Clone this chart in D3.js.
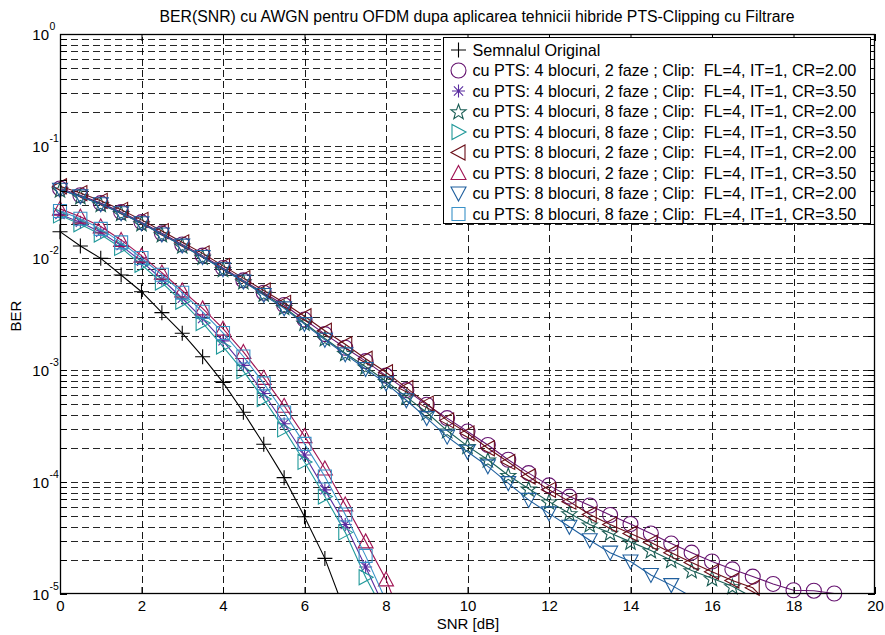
<!DOCTYPE html>
<html><head><meta charset="utf-8">
<script src="https://cdn.jsdelivr.net/npm/d3@7"></script>
<style>
body{margin:0;background:#fff;}
svg{display:block;font-family:"Liberation Sans",Arial,sans-serif;}
</style></head>
<body><svg id="c" width="885" height="635"></svg>
<script>
// ---------------- data ----------------
const snr = [0,0.5,1,1.5,2,2.5,3,3.5,4,4.5,5,5.5,6,6.5,7,7.5,8,8.5,9,9.5,10,10.5,11,11.5,12,12.5,13,13.5,14,14.5,15,15.5,16,16.5,17,17.5,18,18.5,19];
const xTicks = [0,2,4,6,8,10,12,14,16,18,20];
const yDecades = [0,-1,-2,-3,-4,-5];
const seriesNames = [
  "Semnalul Original",
  "cu PTS: 4 blocuri, 2 faze ; Clip:  FL=4, IT=1, CR=2.00",
  "cu PTS: 4 blocuri, 2 faze ; Clip:  FL=4, IT=1, CR=3.50",
  "cu PTS: 4 blocuri, 8 faze ; Clip:  FL=4, IT=1, CR=2.00",
  "cu PTS: 4 blocuri, 8 faze ; Clip:  FL=4, IT=1, CR=3.50",
  "cu PTS: 8 blocuri, 2 faze ; Clip:  FL=4, IT=1, CR=2.00",
  "cu PTS: 8 blocuri, 2 faze ; Clip:  FL=4, IT=1, CR=3.50",
  "cu PTS: 8 blocuri, 8 faze ; Clip:  FL=4, IT=1, CR=2.00",
  "cu PTS: 8 blocuri, 8 faze ; Clip:  FL=4, IT=1, CR=3.50"
];
const berOriginal = [0.01718,0.0128,0.00993,0.00705,0.0050,0.00325,0.00213,0.001315,7.76e-4,4.19e-4,2.17e-4,1.094e-4,4.9e-5,2.08e-5,6.85e-6];
const ber4b2fCR2 = [0.0417,0.0363,0.0309,0.0257,0.0209,0.0166,0.0132,0.0105,0.00813,0.00631,0.0049,0.0038,0.00282,0.00209,0.00158,0.0012,8.91e-4,6.61e-4,4.9e-4,3.72e-4,2.82e-4,2.14e-4,1.58e-4,1.2e-4,9.33e-5,7.41e-5,6.17e-5,5.07e-5,4.22e-5,3.47e-5,2.82e-5,2.34e-5,1.95e-5,1.66e-5,1.43e-5,1.23e-5,1.08e-5,1.07e-5,1.01e-5];
const ber4b2fCR35 = [0.0245,0.0209,0.0170,0.0129,0.00933,0.00646,0.00437,0.00288,0.00182,0.0011,6.17e-4,3.31e-4,1.74e-4,8.51e-5,4.17e-5,1.74e-5,7.08e-6];
const ber4b8fCR2 = [0.0407,0.0355,0.0302,0.0251,0.0204,0.0162,0.0129,0.0102,0.00794,0.00617,0.00479,0.00363,0.00263,0.00191,0.00141,0.00107,7.94e-4,5.75e-4,4.17e-4,2.88e-4,2.09e-4,1.58e-4,1.15e-4,8.71e-5,6.68e-5,5.25e-5,4.17e-5,3.51e-5,2.92e-5,2.45e-5,2.0e-5,1.62e-5,1.38e-5,1.17e-5,9.33e-6];
const ber4b8fCR35 = [0.0240,0.0200,0.0162,0.0123,0.00871,0.00603,0.00407,0.00263,0.00162,9.77e-4,5.5e-4,2.95e-4,1.51e-4,7.41e-5,3.55e-5,1.41e-5,6.46e-6];
const ber8b2fCR2 = [0.0437,0.038,0.0324,0.0269,0.0219,0.0174,0.0138,0.011,0.00851,0.00661,0.00513,0.00398,0.00302,0.00224,0.0017,0.00126,9.55e-4,6.92e-4,5.01e-4,3.55e-4,2.72e-4,2.0e-4,1.51e-4,1.12e-4,8.51e-5,6.68e-5,5.13e-5,4.17e-5,3.47e-5,2.88e-5,2.34e-5,1.91e-5,1.58e-5,1.32e-5,1.135e-5,7.41e-6];
const ber8b2fCR35 = [0.0275,0.0234,0.0191,0.0145,0.0105,0.00741,0.00513,0.00355,0.00234,0.00145,8.51e-4,4.79e-4,2.57e-4,1.32e-4,6.31e-5,2.95e-5,1.35e-5,4.68e-6];
const ber8b8fCR2 = [0.0407,0.0355,0.0302,0.0251,0.0204,0.0162,0.0129,0.0102,0.00794,0.00617,0.00468,0.00355,0.00257,0.00186,0.00138,0.00102,7.59e-4,5.37e-4,3.72e-4,2.54e-4,1.86e-4,1.38e-4,9.77e-5,6.92e-5,5.25e-5,3.98e-5,3.02e-5,2.34e-5,1.95e-5,1.48e-5,1.2e-5,9.44e-6];
const ber8b8fCR35 = [0.0263,0.0224,0.0182,0.0138,0.0100,0.00708,0.0049,0.00331,0.00214,0.00132,7.59e-4,4.17e-4,2.19e-4,1.12e-4,5.13e-5,2.19e-5,8.71e-6];

// ---------------- styling ----------------
const seriesData = [berOriginal, ber4b2fCR2, ber4b2fCR35, ber4b8fCR2, ber4b8fCR35, ber8b2fCR2, ber8b2fCR35, ber8b8fCR2, ber8b8fCR35];
const colors = ["#000000","#661470","#5a2ca0","#1b5e55","#21999a","#6a0e18","#a01453","#1f5f9e","#3a92c8"];
const markers = ["plus","circle","asterisk","pentagram","triR","triL","triU","triD","square"];

function markerPath(t){
  const p = d3.path();
  switch(t){
    case "plus": p.moveTo(-7.5,0);p.lineTo(7.5,0);p.moveTo(0,-7.5);p.lineTo(0,7.5);break;
    case "circle": p.moveTo(7.5,0);p.arc(0,0,7.5,0,2*Math.PI);break;
    case "asterisk": {const a=6.5,b=4.6;p.moveTo(-a,0);p.lineTo(a,0);p.moveTo(0,-a);p.lineTo(0,a);p.moveTo(-b,-b);p.lineTo(b,b);p.moveTo(-b,b);p.lineTo(b,-b);break;}
    case "pentagram": {const R=8,r=3.3;for(let i=0;i<10;i++){const ang=-Math.PI/2+i*Math.PI/5;const rr=i%2?r:R;const x=rr*Math.cos(ang),y=rr*Math.sin(ang)+0.8;if(i===0)p.moveTo(x,y);else p.lineTo(x,y);}p.closePath();break;}
    case "triU": p.moveTo(0,-7.5);p.lineTo(7.5,6.5);p.lineTo(-7.5,6.5);p.closePath();break;
    case "triD": p.moveTo(0,7.5);p.lineTo(7.5,-6.5);p.lineTo(-7.5,-6.5);p.closePath();break;
    case "triR": p.moveTo(7.5,0);p.lineTo(-6.5,-7.5);p.lineTo(-6.5,7.5);p.closePath();break;
    case "triL": p.moveTo(-7.5,0);p.lineTo(6.5,-7.5);p.lineTo(6.5,7.5);p.closePath();break;
    case "square": p.rect(-6.5,-6.5,13,13);break;
  }
  return p.toString();
}

// ---------------- chart ----------------
const svg = d3.select("#c");
const L=60,R=875,T=34,B=594;
const x = d3.scaleLinear().domain([0,20]).range([L,R]);
const y = d3.scaleLog().domain([1e-5,1]).range([B,T]);

svg.append("rect").attr("width",885).attr("height",635).attr("fill","#fff");

// grid
const grid = svg.append("g").attr("stroke","#000").attr("stroke-width",1).attr("stroke-dasharray","7,4").attr("fill","none");
const yGridVals = [];
for(let e=-5;e<0;e++){for(let k=1;k<=9;k++){const v=k*Math.pow(10,e);if(v>1e-5&&v<1)yGridVals.push(v);}}
grid.selectAll("line.h").data(yGridVals).join("line")
  .attr("x1",L).attr("x2",R)
  .attr("y1",d=>Math.round(y(d))+0.5).attr("y2",d=>Math.round(y(d))+0.5)
  .attr("stroke-opacity",0.85);
grid.selectAll("line.v").data(xTicks.slice(1,-1)).join("line")
  .attr("x1",d=>Math.round(x(d))+0.5).attr("x2",d=>Math.round(x(d))+0.5)
  .attr("y1",B).attr("y2",T).attr("stroke-opacity",0.9);

// series
svg.append("clipPath").attr("id","pc").append("rect").attr("x",L).attr("y",T).attr("width",R-L).attr("height",B-T);
const line = d3.line().x((d,i)=>x(snr[i])).y(d=>y(d));
seriesData.forEach((arr,si)=>{
  const g = svg.append("g");
  g.append("path").attr("d",line(arr)).attr("fill","none").attr("stroke",colors[si]).attr("stroke-width",1.1).attr("clip-path","url(#pc)");
  const pts = arr.map((v,i)=>({x:snr[i],v})).filter(d=>d.v>=1e-5);
  g.selectAll("path.m").data(pts).join("path").attr("class","m")
    .attr("transform",d=>`translate(${x(d.x)},${y(d.v)})`)
    .attr("d",markerPath(markers[si])).attr("fill","none").attr("stroke",colors[si]).attr("stroke-width",1.1);
});

// axes box
const ax = svg.append("g");
ax.append("rect").attr("x",L+0.5).attr("y",T+0.5).attr("width",R-L-1).attr("height",B-T-1).attr("fill","none").attr("stroke","#000").attr("stroke-width",1.3);
const bottomAxis = d3.axisBottom(x).tickValues(xTicks).tickSize(-7).tickPadding(6).tickFormat(d3.format("d"));
const gb = ax.append("g").attr("transform",`translate(0,${B})`).call(bottomAxis);
gb.select(".domain").remove();
gb.selectAll("text").attr("font-size",15).attr("fill","#000").attr("font-family","Liberation Sans, Arial, sans-serif");
const topAxis = d3.axisTop(x).tickValues(xTicks).tickSize(-7).tickFormat("");
const gt = ax.append("g").attr("transform",`translate(0,${T})`).call(topAxis);
gt.select(".domain").remove();
// y ticks (major + minor) left and right
const yTickVals = yGridVals.concat(yDecades.map(e=>Math.pow(10,e)));
ax.selectAll("line.yl").data(yTickVals).join("line").attr("x1",L).attr("x2",L+7)
  .attr("y1",d=>Math.round(y(d))+0.5).attr("y2",d=>Math.round(y(d))+0.5).attr("stroke","#000");
ax.selectAll("line.yr").data(yTickVals).join("line").attr("x1",R-7).attr("x2",R)
  .attr("y1",d=>Math.round(y(d))+0.5).attr("y2",d=>Math.round(y(d))+0.5).attr("stroke","#000");
// y tick labels
yDecades.forEach(e=>{
  const yy = y(Math.pow(10,e));
  ax.append("text").attr("x",49).attr("y",yy+6).attr("text-anchor","end").attr("font-size",15).text("10");
  ax.append("text").attr("x",49.5).attr("y",yy-4).attr("font-size",10.5).text(String(e));
});

// labels
svg.append("text").attr("x",477).attr("y",21.5).attr("text-anchor","middle").attr("font-size",15.8)
  .text("BER(SNR) cu AWGN pentru OFDM dupa aplicarea tehnicii hibride PTS-Clipping cu Filtrare");
svg.append("text").attr("x",468).attr("y",629).attr("text-anchor","middle").attr("font-size",15).text("SNR [dB]");
svg.append("text").attr("transform","translate(21,316) rotate(-90)").attr("text-anchor","middle").attr("font-size",15).text("BER");

// legend
const lg = svg.append("g");
lg.append("rect").attr("x",443.5).attr("y",37.5).attr("width",427).attr("height",186).attr("fill","#fff").attr("stroke","#000").attr("stroke-width",1);
seriesNames.forEach((n,i)=>{
  const cy = 50 + i*20.5;
  lg.append("path").attr("transform",`translate(458.5,${cy})`).attr("d",markerPath(markers[i])).attr("fill","none").attr("stroke",colors[i]).attr("stroke-width",1.1);
  lg.append("text").attr("x",472.5).attr("y",cy+5.5).attr("font-size",16.2).style("white-space","pre").text(n);
});
</script></body></html>
